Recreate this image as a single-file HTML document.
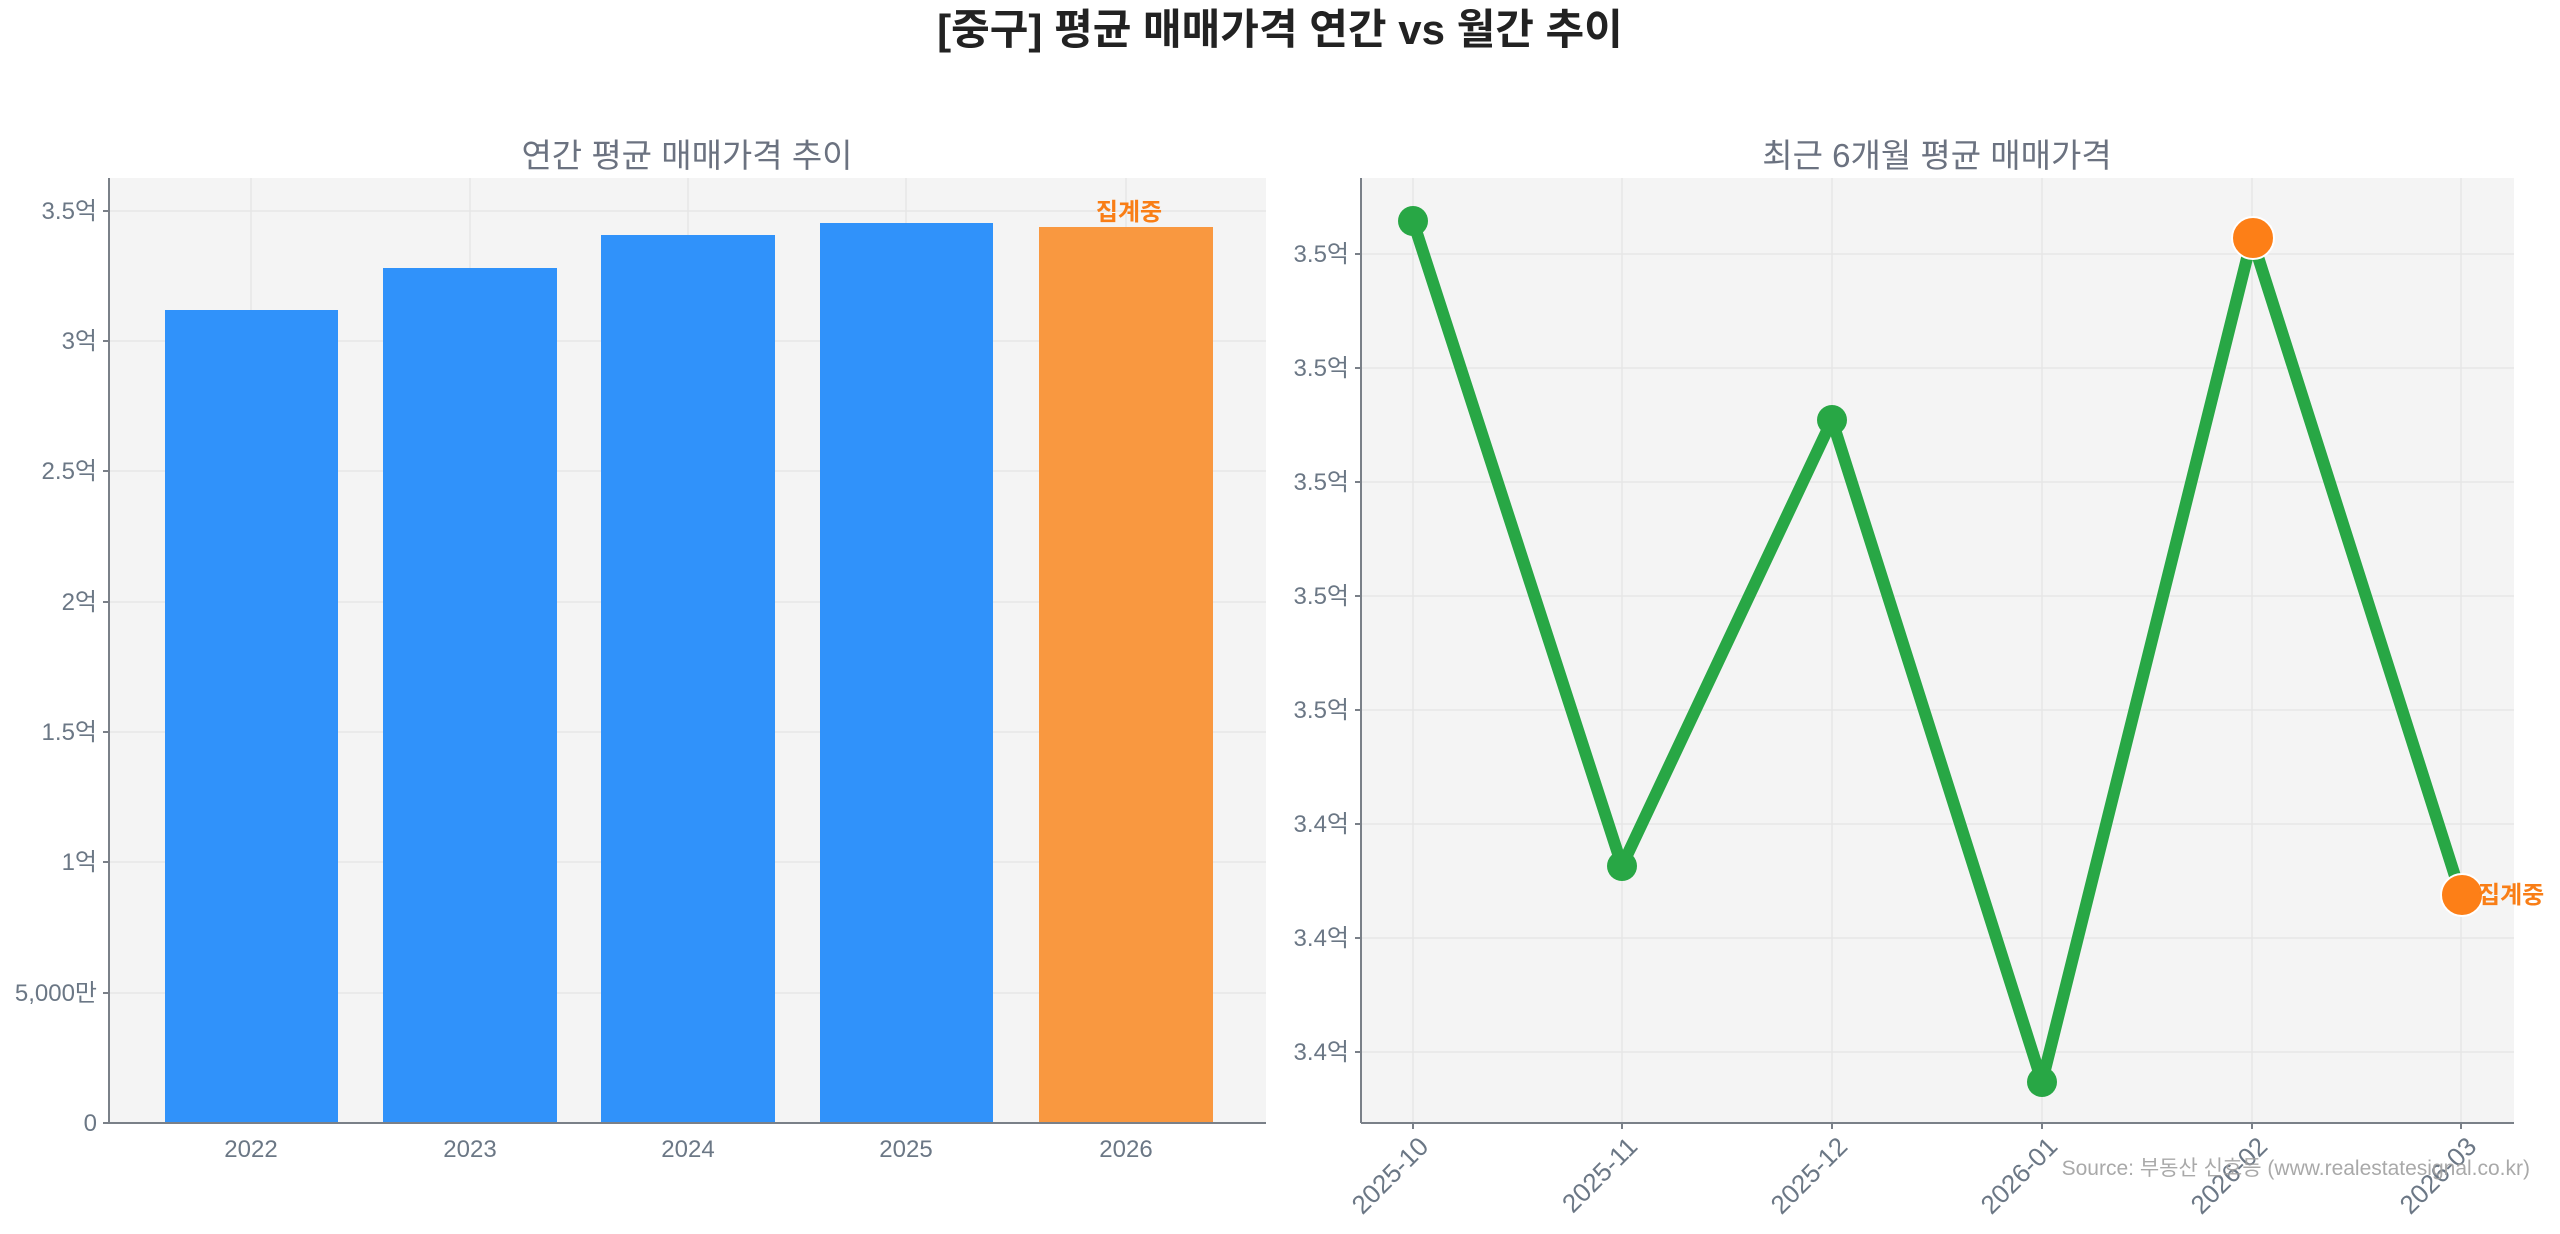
<!DOCTYPE html><html><head><meta charset="utf-8"><style>body{margin:0;background:#fff}svg{display:block}text{font-family:"Liberation Sans","Noto Sans CJK KR",sans-serif}</style></head><body>
<svg width="2560" height="1234" xmlns="http://www.w3.org/2000/svg">
<text x="1280" y="44" text-anchor="middle" font-size="42" font-weight="bold" fill="#222">[중구] 평균 매매가격 연간 vs 월간 추이</text>
<!-- left -->
<text x="687" y="167" text-anchor="middle" font-size="33" fill="#6b7280">연간 평균 매매가격 추이</text>
<rect x="109" y="178" width="1157" height="945" fill="#f4f4f4"/>
<g stroke="#e6e6e6" stroke-width="1.5">
<line x1="109" x2="1266" y1="993" y2="993"/><line x1="109" x2="1266" y1="862" y2="862"/><line x1="109" x2="1266" y1="732" y2="732"/><line x1="109" x2="1266" y1="602" y2="602"/><line x1="109" x2="1266" y1="471" y2="471"/><line x1="109" x2="1266" y1="341" y2="341"/><line x1="109" x2="1266" y1="211" y2="211"/>
<line x1="251" x2="251" y1="178" y2="1123"/><line x1="470" x2="470" y1="178" y2="1123"/><line x1="688" x2="688" y1="178" y2="1123"/><line x1="906" x2="906" y1="178" y2="1123"/><line x1="1126" x2="1126" y1="178" y2="1123"/>
</g>
<rect x="165" y="310" width="173" height="813" fill="#3092fa"/>
<rect x="383" y="268" width="174" height="855" fill="#3092fa"/>
<rect x="601" y="235" width="174" height="888" fill="#3092fa"/>
<rect x="820" y="223" width="173" height="900" fill="#3092fa"/>
<rect x="1039" y="227" width="174" height="896" fill="#f99840"/>
<text x="1129" y="220" text-anchor="middle" font-size="24" font-weight="bold" fill="#f97e16">집계중</text>
<line x1="109" x2="109" y1="178" y2="1123" stroke="#7a8088" stroke-width="2"/>
<line x1="109" x2="1266" y1="1123" y2="1123" stroke="#7a8088" stroke-width="2"/>
<g font-size="24" fill="#6b7785" text-anchor="end">
<text x="97" y="1131">0</text><text x="97" y="1001">5,000만</text><text x="97" y="870">1억</text><text x="97" y="740">1.5억</text><text x="97" y="610">2억</text><text x="97" y="479">2.5억</text><text x="97" y="349">3억</text><text x="97" y="219">3.5억</text>
</g>
<g stroke="#7a8088" stroke-width="2"><line x1="103" x2="109" y1="1123" y2="1123"/><line x1="103" x2="109" y1="993" y2="993"/><line x1="103" x2="109" y1="862" y2="862"/><line x1="103" x2="109" y1="732" y2="732"/><line x1="103" x2="109" y1="602" y2="602"/><line x1="103" x2="109" y1="471" y2="471"/><line x1="103" x2="109" y1="341" y2="341"/><line x1="103" x2="109" y1="211" y2="211"/></g>
<g font-size="24" fill="#6b7785" text-anchor="middle"><text x="251" y="1157">2022</text><text x="470" y="1157">2023</text><text x="688" y="1157">2024</text><text x="906" y="1157">2025</text><text x="1126" y="1157">2026</text></g>
<!-- right -->
<text x="1937" y="167" text-anchor="middle" font-size="33" fill="#6b7280">최근 6개월 평균 매매가격</text>
<rect x="1361" y="178" width="1153" height="945" fill="#f4f4f4"/>
<g stroke="#e6e6e6" stroke-width="1.5">
<line x1="1361" x2="2514" y1="254" y2="254"/><line x1="1361" x2="2514" y1="368" y2="368"/><line x1="1361" x2="2514" y1="482" y2="482"/><line x1="1361" x2="2514" y1="596" y2="596"/><line x1="1361" x2="2514" y1="710" y2="710"/><line x1="1361" x2="2514" y1="824" y2="824"/><line x1="1361" x2="2514" y1="938" y2="938"/><line x1="1361" x2="2514" y1="1052" y2="1052"/>
<line x1="1413" x2="1413" y1="178" y2="1123"/><line x1="1622" x2="1622" y1="178" y2="1123"/><line x1="1832" x2="1832" y1="178" y2="1123"/><line x1="2042" x2="2042" y1="178" y2="1123"/><line x1="2252" x2="2252" y1="178" y2="1123"/><line x1="2461" x2="2461" y1="178" y2="1123"/>
</g>
<polyline points="1413,221 1622,866 1832,420 2042,1082 2252,238 2461,895" fill="none" stroke="#28a745" stroke-width="12" stroke-linejoin="round"/>
<g fill="#28a745"><circle cx="1413" cy="221" r="15"/><circle cx="1622" cy="866" r="15"/><circle cx="1832" cy="420" r="15"/><circle cx="2042" cy="1082" r="15"/></g>
<g fill="#fd7f17" stroke="#fff" stroke-width="2"><circle cx="2253" cy="238" r="21"/><circle cx="2462" cy="895" r="21"/></g>
<text x="2478" y="903" font-size="24" font-weight="bold" fill="#f97e16">집계중</text>
<line x1="1361" x2="1361" y1="178" y2="1123" stroke="#7a8088" stroke-width="2"/>
<line x1="1361" x2="2514" y1="1123" y2="1123" stroke="#7a8088" stroke-width="2"/>
<g font-size="24" fill="#6b7785" text-anchor="end">
<text x="1349" y="262">3.5억</text><text x="1349" y="376">3.5억</text><text x="1349" y="490">3.5억</text><text x="1349" y="604">3.5억</text><text x="1349" y="718">3.5억</text><text x="1349" y="832">3.4억</text><text x="1349" y="946">3.4억</text><text x="1349" y="1060">3.4억</text>
</g>
<g stroke="#7a8088" stroke-width="2"><line x1="1355" x2="1361" y1="254" y2="254"/><line x1="1355" x2="1361" y1="368" y2="368"/><line x1="1355" x2="1361" y1="482" y2="482"/><line x1="1355" x2="1361" y1="596" y2="596"/><line x1="1355" x2="1361" y1="710" y2="710"/><line x1="1355" x2="1361" y1="824" y2="824"/><line x1="1355" x2="1361" y1="938" y2="938"/><line x1="1355" x2="1361" y1="1052" y2="1052"/>
<line x1="1413" x2="1413" y1="1123" y2="1129"/><line x1="1622" x2="1622" y1="1123" y2="1129"/><line x1="1832" x2="1832" y1="1123" y2="1129"/><line x1="2042" x2="2042" y1="1123" y2="1129"/><line x1="2252" x2="2252" y1="1123" y2="1129"/><line x1="2461" x2="2461" y1="1123" y2="1129"/></g>
<g font-size="26" fill="#6b7785" text-anchor="end">
<text transform="translate(1430,1148) rotate(-45)">2025-10</text><text transform="translate(1639,1148) rotate(-45)">2025-11</text><text transform="translate(1849,1148) rotate(-45)">2025-12</text><text transform="translate(2059,1148) rotate(-45)">2026-01</text><text transform="translate(2269,1148) rotate(-45)">2026-02</text><text transform="translate(2478,1148) rotate(-45)">2026-03</text>
</g>
<text x="2530" y="1175" text-anchor="end" font-size="21" fill="#a0a0a0" opacity="0.9">Source: 부동산 신호등 (www.realestatesignal.co.kr)</text>
</svg></body></html>
